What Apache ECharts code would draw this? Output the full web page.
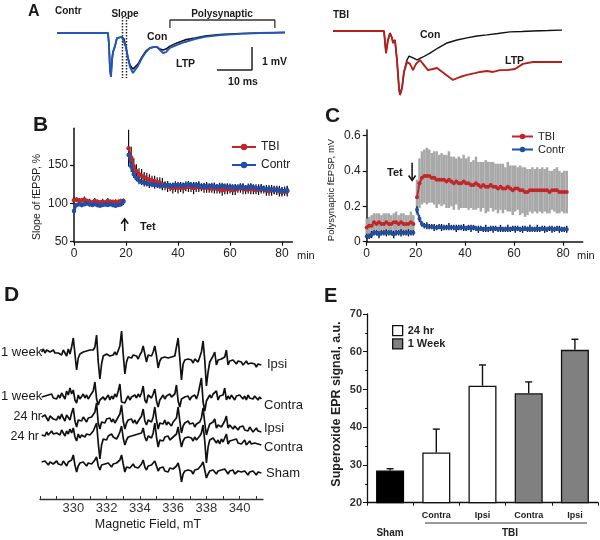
<!DOCTYPE html>
<html><head><meta charset="utf-8">
<script src="https://cdn.jsdelivr.net/npm/echarts@6/dist/echarts.min.js"></script>
<style>html,body{margin:0;padding:0;background:#fff}#c{width:600px;height:540px}</style>
</head><body><div id="c"></div>
<script>
// ---------- Panel A: field potential traces (ms, mV) ----------
const A_CTRL_MS  = [0,14.54,14.82,15.11,15.39,15.68,15.96,16.53,17.10,17.67,18.53,19.10,19.67,20.24,20.81,21.66,22.23,23.09,24.23,25.37,26.51,27.65,28.51,29.36,30.22,31.07,32.21,34.21,36.49,39.34,42.19,46.47,52.17,57.87,65.0];
const A_CTRL_LTP = [0,0,-0.52,-1.61,-1.91,-1.17,-0.83,-0.57,-0.22,-0.17,-0.17,-0.22,-0.61,-1.09,-1.48,-1.74,-1.70,-1.43,-1.09,-0.83,-0.65,-0.61,-0.61,-0.74,-0.87,-0.83,-0.65,-0.52,-0.39,-0.26,-0.17,-0.09,-0.04,0,0.02];
const A_CTRL_CON = [0,0,-0.52,-1.61,-1.87,-1.17,-0.83,-0.57,-0.22,-0.17,-0.17,-0.26,-0.65,-1.09,-1.39,-1.57,-1.52,-1.35,-1.04,-0.78,-0.65,-0.61,-0.61,-0.70,-0.74,-0.70,-0.57,-0.43,-0.30,-0.22,-0.13,-0.07,-0.02,0,0.02];
const A_TBI_LTP_MS = [0,14.54,15.11,15.68,16.25,16.82,17.10,17.67,18.24,18.81,19.10,19.67,20.24,21.09,21.95,22.81,23.66,24.80,25.94,27.08,28.51,29.65,31.93,34.21,36.20,38.20,40.48,41.90,43.90,45.61,47.61,49.60,51.88,54.16,57.01,59.86,62.43,65.28];
const A_TBI_LTP    = [0,0,-0.96,-0.39,-0.09,-0.30,-0.52,-0.39,-1.26,-2.48,-2.78,-2.48,-1.78,-1.35,-1.43,-1.70,-1.43,-1.26,-1.48,-1.70,-1.65,-1.61,-1.87,-2.13,-2.00,-1.91,-1.83,-1.78,-1.74,-1.78,-1.70,-1.70,-1.65,-1.43,-1.35,-1.35,-1.35,-1.35];
const A_TBI_CON_MS = [0,14.54,15.11,15.68,16.25,16.82,17.10,17.67,18.24,18.81,19.10,19.67,20.24,21.09,21.67,22.81,23.95,25.66,27.65,29.93,32.50,35.35,38.20,41.05,43.90,47.04,50.46,53.88,57.01,61.29,65.28];
const A_TBI_CON    = [0,0,-0.96,-0.39,-0.09,-0.30,-0.52,-0.39,-1.26,-2.48,-2.78,-2.48,-1.78,-1.26,-1.09,-1.17,-1.26,-1.13,-0.96,-0.74,-0.52,-0.39,-0.30,-0.22,-0.17,-0.11,-0.04,-0.02,0,0.02,0.04];

// ---------- Panel B: slope of fEPSP, % ----------
const B_TIME = [0,1,2,3,4,5,6,7,8,9,10,11,12,13,14,15,16,17,18,19,20,
  21,22,23,24,25,26,27,28,29,30,31,32,33,34,35,36,37,38,39,40,41,42,43,44,45,46,47,48,49,50,
  51,52,53,54,55,56,57,58,59,60,61,62,63,64,65,66,67,68,69,70,71,72,73,74,75,76,77,78,79,80,81,82];
const B_TBI = [104,105,103,104,105,103,102,101,103,102,101,102,101,103,102,101,102,101,103,102,null,
  172,160,148,142,138,136,134,132,131,130,
  129,128,127,125,123,122,121,120,121,120,
  121,120,121,122,121,120,121,122,121,120,
  121,120,119,120,119,118,117,118,119,118,
  117,118,119,120,119,118,118,119,118,117,
  118,119,118,117,116,117,118,117,116,115,
  116,116];
const B_TBI_SEM = [4,3,4,3,4,3,4,3,4,3,3,4,3,4,3,4,3,4,3,4,null,
  24,14,11,9,8,9,7,8,7,6,
  7,6,7,8,6,7,5,7,6,7,
  6,7,5,7,6,8,6,7,5,6,
  7,6,5,7,6,5,7,6,7,5,
  6,7,5,6,7,6,5,7,6,5,
  7,6,5,7,6,7,5,6,7,6,
  6,7];
const B_CONTR = [90,98,99,98,99,100,99,98,99,98,97,98,99,98,99,98,97,98,99,103,null,
  163,148,138,133,130,128,127,126,125,125,
  124,124,123,123,124,124,123,123,124,124,
  123,123,124,125,124,123,124,123,122,123,
  122,122,123,122,121,122,123,122,121,122,
  121,120,121,122,121,120,121,122,121,120,
  119,120,119,118,119,118,117,118,117,116,
  116,117];
const B_CONTR_SEM = [3,2,2,3,2,2,3,2,2,3,2,2,3,2,2,3,2,2,3,3,null,
  10,7,5,4,5,4,5,4,5,4,
  5,4,4,5,4,5,4,4,5,4,
  5,4,5,4,4,5,4,5,4,4,
  5,4,4,5,4,5,4,4,5,4,
  4,5,4,4,5,4,5,4,4,5,
  4,5,4,4,5,4,5,4,4,5,
  4,5];

// ---------- Panel C: polysynaptic fEPSP, mV ----------
const C_TIME = [0,1,2,3,4,5,6,7,8,9,10,11,12,13,14,15,16,17,18,19,20,
  20.5,21.5,22.5,23.5,24.5,25.5,26.5,27.5,28.5,29.5,30.5,31.5,32.5,33.5,34.5,35.5,36.5,37.5,38.5,39.5,
  40.5,41.5,42.5,43.5,44.5,45.5,46.5,47.5,48.5,49.5,50.5,51.5,52.5,53.5,54.5,55.5,56.5,57.5,58.5,59.5,
  60.5,61.5,62.5,63.5,64.5,65.5,66.5,67.5,68.5,69.5,70.5,71.5,72.5,73.5,74.5,75.5,76.5,77.5,78.5,79.5,80.5,81.5];
const C_TBI = [0.08,0.09,0.09,0.11,0.10,0.11,0.10,0.10,0.11,0.10,0.10,0.11,0.11,0.10,0.11,0.10,0.10,0.10,0.11,0.10,null,
  0.25,0.33,0.36,0.37,0.37,0.37,0.36,0.36,0.35,0.35,
  0.35,0.35,0.34,0.35,0.34,0.33,0.34,0.33,0.33,0.34,
  0.33,0.33,0.32,0.32,0.33,0.32,0.31,0.32,0.31,0.31,
  0.32,0.31,0.31,0.30,0.31,0.30,0.30,0.31,0.30,0.29,
  0.30,0.30,0.29,0.29,0.28,0.28,0.29,0.29,0.29,0.29,
  0.29,0.29,0.29,0.29,0.28,0.29,0.29,0.29,0.28,0.28,
  0.28,0.28];
const C_TBI_SEM = [0.05,0.05,0.06,0.05,0.06,0.05,0.05,0.06,0.05,0.06,0.05,0.05,0.06,0.05,0.05,0.06,0.05,0.05,0.06,0.05,null,
  0.10,0.14,0.15,0.15,0.16,0.15,0.14,0.15,0.16,0.14,
  0.15,0.14,0.15,0.16,0.14,0.15,0.13,0.15,0.14,0.15,
  0.14,0.15,0.13,0.14,0.15,0.13,0.14,0.13,0.15,0.14,
  0.13,0.14,0.13,0.14,0.13,0.14,0.12,0.14,0.13,0.14,
  0.13,0.12,0.14,0.13,0.14,0.13,0.12,0.13,0.12,0.13,
  0.12,0.13,0.12,0.13,0.12,0.11,0.12,0.13,0.12,0.11,
  0.12,0.12];
const C_CONTR = [0.03,0.03,0.04,0.05,0.05,0.04,0.05,0.05,0.05,0.05,0.05,0.04,0.05,0.05,0.05,0.05,0.05,0.05,0.05,0.05,null,
  0.18,0.13,0.10,0.09,0.09,0.085,0.085,0.08,0.08,0.085,
  0.08,0.08,0.08,0.085,0.08,0.08,0.075,0.08,0.08,0.08,
  0.075,0.08,0.075,0.08,0.075,0.07,0.075,0.07,0.075,0.07,
  0.075,0.07,0.075,0.07,0.075,0.07,0.07,0.075,0.07,0.075,
  0.07,0.075,0.07,0.07,0.075,0.07,0.075,0.07,0.07,0.075,
  0.07,0.075,0.07,0.07,0.075,0.07,0.07,0.075,0.07,0.07,
  0.07,0.07];
const C_CONTR_SEM = [0.015,0.015,0.02,0.015,0.015,0.02,0.015,0.015,0.02,0.015,0.015,0.02,0.015,0.015,0.02,0.015,0.015,0.02,0.015,0.015,null,
  0.02,0.02,0.015,0.015,0.02,0.015,0.015,0.02,0.015,0.015,
  0.02,0.015,0.015,0.02,0.015,0.015,0.02,0.015,0.015,0.02,
  0.015,0.015,0.02,0.015,0.015,0.02,0.015,0.015,0.02,0.015,
  0.015,0.02,0.015,0.015,0.02,0.015,0.015,0.02,0.015,0.015,
  0.02,0.015,0.015,0.02,0.015,0.015,0.02,0.015,0.015,0.02,
  0.015,0.015,0.02,0.015,0.015,0.02,0.015,0.015,0.02,0.015,
  0.015,0.02];

// ---------- Panel D: EPR spectra (field sampled every 0.1 mT from 328.1) ----------
const D_FIELD_START = 328.1, D_FIELD_STEP = 0.1;
const D_WEEK_IPSI = [0,3,-1,2,4,0,-2,2,-1,1, -1,1,-3,2,-1,-4,3,-2,5,14, -2,-18,-6,-2,-3,0,-2,1,-1,2,
  0,2,5,17,-10,-27,-12,-4,-3,-2, -1,-4,-2,-3,0,-3,-1,6,21,-2, -22,-10,-5,-4,-6,-3,-5,-4,-7,-3,
  0,6,-2,-10,-3,-1,-4,0,6,-4, -16,-9,-6,-8,-5,-7,-6,-8,-5,-7, -4,-2,14,-6,-28,-12,-8,-10,-7,-9,
  -8,-11,-7,-9,-10,-8,0,11,-8,-34, -20,-10,-8,-4,0,-13,-8,-10,-7,-9, -5,2,-13,-9,-11,-8,-10,-12,-9,-11,
  -10,-13,-11,-9,-12,-14,-11,-13,-12,-15, -12,-14,-13];
const D_WEEK_CONTRA = [0,-2,1,-1,2,0,3,-1,1,-2, 2,-1,4,1,-2,6,2,9,3,7, -3,-6,2,-2,0,3,-1,2,-2,1,
  3,6,15,-2,-8,-3,-5,0,-3,-1, 2,-3,1,-2,3,0,6,13,-5,-3, -6,-2,1,-3,0,-2,2,-1,3,0,
  4,11,-3,-6,2,4,-1,3,8,-4, -10,-3,-1,2,-2,1,-1,3,0,2, 3,12,-4,-10,-2,-4,0,-2,1,-3,
  0,-1,2,-2,3,1,19,-5,-14,-4, -2,2,-1,3,1,6,-3,1,-1,2, 9,-3,1,-2,2,0,-3,1,-1,2,
  0,-2,1,-3,2,-1,0,-2,1,-1, -3,0,-2];
const D_DAY_IPSI = [0,-2,2,-1,-4,1,3,-2,0,-3, 1,-2,3,-1,-4,2,0,-3,4,9, -4,-10,-3,-1,-4,0,-2,-5,-1,-3,
  0,2,5,14,-6,-12,-5,-3,-6,-2, -4,-1,-5,-2,-6,-3,-1,3,12,-4, -12,-6,-3,-5,-2,-6,-3,-7,-4,-2,
  1,8,-4,-8,-3,-1,-5,0,10,-3, -12,-6,-4,-7,-3,-8,-5,-6,-9,-5, -3,-1,10,-4,-16,-9,-6,-8,-4,-7,
  -9,-6,-10,-7,-8,-5,-1,9,-6,-18, -12,-7,-9,-5,-2,-11,-8,-6,-10,-7, -4,1,-11,-8,-10,-12,-9,-11,-13,-10,
  -12,-9,-13,-11,-14,-10,-12,-15,-13,-11, -14,-16,-15];
const D_DAY_CONTRA = [0,2,-1,3,0,-2,4,1,-1,2, 3,0,5,2,-1,4,1,6,2,7, -2,-6,1,-3,0,2,-2,1,-1,0,
  2,4,6,12,-8,-24,-10,-4,-2,-5, -1,-3,1,-2,0,-4,-1,3,9,-3, -10,-5,-2,-4,-1,-3,0,-2,1,-1,
  2,7,-2,-6,-1,1,-3,2,12,-2, -12,-5,-3,-6,-2,-4,-1,-5,-3,-2, -1,1,8,-3,-12,-6,-3,-5,-2,-4,
  -3,-6,-2,-5,-3,-1,2,10,-6,-28, -12,-5,-7,-3,-1,-8,-5,-9,-4,-7, -3,1,-9,-6,-8,-5,-7,-4,-8,-6,
  -9,-7,-5,-10,-8,-6,-9,-11,-8,-10, -9,-11,-10];
const D_SHAM = [0,-2,1,-1,-3,0,2,-2,-1,1, -2,0,-3,1,-1,-4,0,-2,2,7, -3,-10,-4,-1,-3,0,-2,-4,-1,-3,
  -2,0,2,5,-4,-8,-3,-5,-2,-4, -1,-3,-5,-2,-4,-1,-3,2,7,-2, -10,-5,-3,-6,-4,-2,-5,-3,-6,-4,
  -2,2,-5,-8,-4,-6,-3,-5,1,-4, -9,-6,-8,-5,-9,-7,-10,-6,-8,-7, -5,-4,-1,-8,-20,-12,-9,-11,-8,-10,
  -9,-12,-8,-10,-7,-9,-3,0,-8,-16, -12,-9,-11,-8,-7,-12,-9,-11,-8,-10, -7,-6,-12,-9,-11,-8,-12,-10,-9,-11,
  -10,-12,-9,-11,-13,-10,-12,-9,-11,-13, -10,-12,-11];

// ---------- Panel E: superoxide EPR signal ----------
const E_CATEGORIES = ['Sham','Contra','Ipsi','Contra','Ipsi'];
const E_GROUP = ['Sham','24 hr','24 hr','1 Week','1 Week'];
const E_MEAN = [28.5,33.3,51.0,49.0,60.5];
const E_ERR_TOP = [29.0,39.5,56.5,52.0,63.3];

// ---------- build ----------
const FONT = '"Liberation Sans", Arial, sans-serif';
const RED = '#c2262b', BLUE = '#1f4fa8';
const chart = echarts.init(document.getElementById('c'), null, {width:600, height:540});
const pairs = (xs, ys) => xs.map((x, i) => [x, ys[i] == null ? '-' : ys[i]]);
const errData = (xs, m, s) => xs.map((x, i) => m[i] == null ? null : [x, m[i] - s[i], m[i] + s[i]]).filter(d => d);
const dTrace = (vals, base) => vals.map((v, i) => [+(D_FIELD_START + i * D_FIELD_STEP).toFixed(2), v + base]);

function T(text, x, y, o) {
  o = o || {};
  return {type:'text', x, y, rotation:o.rot || 0, silent:true, z:100,
    style:{text, fill:o.color || '#1a1a1a', font:(o.weight || 'normal') + ' ' + (o.size || 11) + 'px ' + FONT,
      align:o.align || 'left', verticalAlign:'middle'}};
}
function errSeries(gi, data, color, width, z) {
  return {type:'custom', xAxisIndex:gi, yAxisIndex:gi, z, silent:true, data, encode:{x:0, y:[1,2]},
    renderItem:(p, api) => {
      const x = api.value(0);
      const a = api.coord([x, api.value(1)]), b = api.coord([x, api.value(2)]);
      return {type:'line', shape:{x1:a[0], y1:a[1], x2:b[0], y2:b[1]}, style:{stroke:color, lineWidth:width}};
    }};
}
// arrow drawn in data coordinates of a grid: [x, yFrom] -> [x, yTo]
function arrowSeries(gi, from, to) {
  return {type:'custom', xAxisIndex:gi, yAxisIndex:gi, z:6, silent:true, data:[[from[0], from[1], to[1]]],
    encode:{x:0, y:[1,2]},
    renderItem:(p, api) => {
      const a = api.coord([api.value(0), api.value(1)]), b = api.coord([api.value(0), api.value(2)]);
      const d = b[1] > a[1] ? 1 : -1;
      return {type:'group', children:[
        {type:'line', shape:{x1:a[0], y1:a[1], x2:b[0], y2:b[1] - d * 1}, style:{stroke:'#111', lineWidth:1.5}},
        {type:'polyline', shape:{points:[[b[0]-3.5, b[1]-d*5], [b[0], b[1]], [b[0]+3.5, b[1]-d*5]]},
          style:{stroke:'#111', lineWidth:1.5, fill:null}}]};
    }};
}
function line(gi, data, color, width, extra) {
  return Object.assign({type:'line', xAxisIndex:gi, yAxisIndex:gi, data, symbol:'none', silent:true,
    lineStyle:{color, width}, itemStyle:{color}, z:3}, extra || {});
}
const axisCommon = {axisLine:{show:true, lineStyle:{color:'#111', width:1.5}}, axisTick:{show:true, length:4, lineStyle:{color:'#111', width:1.2}},
  splitLine:{show:false}, axisLabel:{color:'#222', fontSize:12, fontFamily:FONT, margin:6, showMaxLabel:false}};

const option = {
  animation:false,
  backgroundColor:'#fff',
  grid:[
    {left:57, top:14.6, width:231.5, height:87.4, outerBoundsMode:'none'},
    {left:333, top:12.6, width:231.5, height:87.4, outerBoundsMode:'none'},
    {left:74, top:128.3, width:218.4, height:113.4, outerBoundsMode:'none'},
    {left:366.7, top:130, width:216, height:111.7, outerBoundsMode:'none'},
    {left:40, top:329, width:223, height:170, outerBoundsMode:'none'},
    {left:367, top:314, width:231, height:188.7, outerBoundsMode:'none'}
  ],
  xAxis:[
    {gridIndex:0, type:'value', min:0, max:66, show:false},
    {gridIndex:1, type:'value', min:0, max:66, show:false},
    Object.assign({}, axisCommon, {gridIndex:2, type:'value', min:0, max:84, interval:20}),
    Object.assign({}, axisCommon, {gridIndex:3, type:'value', min:0, max:88, interval:20}),
    {gridIndex:4, type:'value', min:328, max:341.4, interval:1,
      axisLine:{show:true, lineStyle:{color:'#333', width:1.3}}, axisTick:{show:true, inside:true, length:3, lineStyle:{color:'#333'}},
      splitLine:{show:false},
      axisLabel:{color:'#333', fontSize:13, fontFamily:FONT, margin:3, showMaxLabel:false,
        formatter:v => (v >= 330 && v <= 340 && Math.round(v) % 2 === 0) ? String(Math.round(v)) : ''}},
    {gridIndex:5, type:'category', data:E_CATEGORIES,
      axisLine:{show:true, lineStyle:{color:'#111', width:1.3}}, axisTick:{show:true, length:3, lineStyle:{color:'#111'}},
      axisLabel:{color:'#222', fontSize:9, fontWeight:'bold', fontFamily:FONT, margin:8, formatter:(v, i) => i === 0 ? '' : v}}
  ],
  yAxis:[
    {gridIndex:0, type:'value', min:-3, max:0.8, show:false},
    {gridIndex:1, type:'value', min:-3, max:0.8, show:false},
    Object.assign({}, axisCommon, {gridIndex:2, type:'value', min:50, max:198, interval:50}),
    Object.assign({}, axisCommon, {gridIndex:3, type:'value', min:0, max:0.63, interval:0.2,
      axisLabel:Object.assign({}, axisCommon.axisLabel, {formatter:v => v === 0 ? '0' : v.toFixed(1)})}),
    {gridIndex:4, type:'value', min:0, max:170, show:false},
    {gridIndex:5, type:'value', min:20, max:70, interval:10,
      axisLine:{show:true, lineStyle:{color:'#111', width:1.3}}, axisTick:{show:true, length:4, lineStyle:{color:'#111'}},
      minorTick:{show:true, splitNumber:2, length:2, lineStyle:{color:'#111'}},
      splitLine:{show:false},
      axisLabel:{color:'#333', fontSize:11, fontWeight:'bold', fontFamily:FONT, margin:5}}
  ],
  legend:[
    {data:['TBI','Contr'], orient:'vertical', left:226, top:136, itemWidth:24, itemHeight:8, itemGap:6,
      selectedMode:false, textStyle:{fontSize:12, color:'#222', fontFamily:FONT}},
    {data:['TBI','Contr'], orient:'vertical', left:506, top:126, itemWidth:21, itemHeight:7, itemGap:2,
      selectedMode:false, textStyle:{fontSize:11, color:'#222', fontFamily:FONT}},
    {data:[{name:'24 hr', itemStyle:{color:'#fff', borderColor:'#111', borderWidth:1.3}},
           {name:'1 Week', itemStyle:{color:'#808080', borderColor:'#111', borderWidth:1.3}}],
      orient:'vertical', left:387, top:320, itemWidth:10, itemHeight:10, itemGap:2, icon:'rect',
      selectedMode:false, textStyle:{fontSize:11, fontWeight:'bold', color:'#222', fontFamily:FONT}}
  ],
  series:[],
  graphic:[]
};

const S = option.series;
// A left
S.push(line(0, pairs(A_CTRL_MS, A_CTRL_CON), '#111', 1.6, {name:'ctrlCon', z:3}));
S.push(line(0, pairs(A_CTRL_MS, A_CTRL_LTP), '#2457bb', 1.9, {name:'ctrlLTP', z:4}));
S.push(line(0, [[18.67,0.70],[18.67,-1.96]], '#222', 1.5, {name:'dot1', lineStyle:{color:'#222', width:1.5, type:[1.5,1.5]}}));
S.push(line(0, [[19.81,0.70],[19.81,-1.96]], '#222', 1.5, {name:'dot2', lineStyle:{color:'#222', width:1.5, type:[1.5,1.5]}}));
S.push(line(0, [[32.2,0.217],[32.2,0.565],[62.1,0.565],[62.1,0.217]], '#333', 1.3, {name:'bracket'}));
S.push(line(0, [[45.6,-1.61],[55.6,-1.61],[55.6,-0.61]], '#222', 1.5, {name:'scale'}));
// A right
S.push(line(1, pairs(A_TBI_CON_MS, A_TBI_CON), '#111', 1.4, {name:'tbiCon'}));
S.push(line(1, pairs(A_TBI_LTP_MS, A_TBI_LTP), '#b3201c', 1.9, {name:'tbiLTP', z:4}));
// B
S.push(errSeries(2, errData(B_TIME, B_TBI, B_TBI_SEM), '#111', 1.2, 1));
S.push(errSeries(2, errData(B_TIME, B_CONTR, B_CONTR_SEM), '#111', 1.2, 1));
S.push(line(2, pairs(B_TIME, B_TBI), RED, 2.2, {name:'TBI', symbol:'circle', symbolSize:4.5, z:3}));
S.push(line(2, pairs(B_TIME, B_CONTR), BLUE, 2.2, {name:'Contr', symbol:'circle', symbolSize:4.5, z:4}));
S.push(arrowSeries(2, [19.5, 64], [19.5, 80]));
// C
S.push(errSeries(3, errData(C_TIME, C_TBI, C_TBI_SEM), '#a8a8a8', 2.5, 1));
S.push(errSeries(3, errData(C_TIME, C_CONTR, C_CONTR_SEM), '#111', 1.4, 2));
S.push(line(3, pairs(C_TIME, C_TBI), RED, 2, {name:'TBI', symbol:'circle', symbolSize:4, z:3}));
S.push(line(3, pairs(C_TIME, C_CONTR), BLUE, 2, {name:'Contr', symbol:'circle', symbolSize:4, z:4}));
S.push(arrowSeries(3, [18.5, 0.445], [18.5, 0.345]));
// D
[[D_WEEK_IPSI,147],[D_WEEK_CONTRA,102],[D_DAY_IPSI,82],[D_DAY_CONTRA,64],[D_SHAM,37]].forEach((t, k) => {
  S.push(line(4, dTrace(t[0], t[1]), '#111', 1.7, {name:'epr' + k}));
});
// E bars
const barStyles = {'Sham':{color:'#000', borderColor:'#000', borderWidth:1.2},
  '24 hr':{color:'#fff', borderColor:'#111', borderWidth:1.3},
  '1 Week':{color:'#808080', borderColor:'#111', borderWidth:1.3}};
['Sham','24 hr','1 Week'].forEach(g => {
  S.push({type:'bar', name:g, xAxisIndex:5, yAxisIndex:5, barWidth:28, barGap:'-100%', silent:true,
    itemStyle:barStyles[g], data:E_MEAN.map((v, i) => E_GROUP[i] === g ? v : '-'), z:2});
});
S.push({type:'custom', xAxisIndex:5, yAxisIndex:5, z:3, silent:true,
  data:E_MEAN.map((v, i) => [i, v, E_ERR_TOP[i]]), encode:{x:0, y:[1,2]},
  renderItem:(p, api) => {
    const i = api.value(0);
    const a = api.coord([i, api.value(1)]), b = api.coord([i, api.value(2)]);
    return {type:'group', children:[
      {type:'line', shape:{x1:a[0], y1:a[1], x2:b[0], y2:b[1]}, style:{stroke:'#111', lineWidth:1.4}},
      {type:'line', shape:{x1:b[0]-3.5, y1:b[1], x2:b[0]+3.5, y2:b[1]}, style:{stroke:'#111', lineWidth:1.4}}]};
  }});

// ---------- text annotations ----------
const G = option.graphic;
G.push(T('A', 28, 12, {weight:'bold', size:16}));
G.push(T('Contr', 55, 11, {weight:'bold', size:10}));
G.push(T('Slope', 125, 14, {weight:'bold', size:10, align:'center'}));
G.push(T('Polysynaptic', 222, 14, {weight:'bold', size:10, align:'center'}));
G.push(T('Con', 147, 37.5, {weight:'bold', size:10.5}));
G.push(T('LTP', 176, 64, {weight:'bold', size:10.5}));
G.push(T('1 mV', 262, 62, {weight:'bold', size:10.5}));
G.push(T('10 ms', 243, 82, {weight:'bold', size:10.5, align:'center'}));
G.push(T('TBI', 333, 15, {weight:'bold', size:10}));
G.push(T('Con', 420, 35, {weight:'bold', size:10.5}));
G.push(T('LTP', 505, 61, {weight:'bold', size:10.5}));

G.push(T('B', 33, 125, {weight:'bold', size:21}));
G.push(T('Slope of fEPSP, %', 37.5, 197, {size:10.5, align:'center', rot:Math.PI/2}));
G.push(T('Tet', 140, 227, {size:11, weight:'bold'}));
G.push(T('min', 297, 256, {size:11}));

G.push(T('C', 325, 116, {weight:'bold', size:21}));
G.push(T('Polysynaptic fEPSP, mV', 331, 190, {size:9.5, align:'center', rot:Math.PI/2}));
G.push(T('Tet', 387, 173, {size:11, weight:'bold'}));
G.push(T('min', 577, 256, {size:11}));

G.push(T('D', 4, 295, {weight:'bold', size:21}));
G.push(T('1 week', 1, 352, {size:13}));
G.push(T('1 week', 1, 396, {size:13}));
G.push(T('24 hr', 42, 417, {size:12.5, align:'right'}));
G.push(T('24 hr', 39, 437, {size:12.5, align:'right'}));
G.push(T('Ipsi', 267, 364, {size:13}));
G.push(T('Contra', 264, 405, {size:13}));
G.push(T('Ipsi', 264, 428, {size:13}));
G.push(T('Contra', 264, 447, {size:13}));
G.push(T('Sham', 266, 473, {size:13}));
G.push(T('Magnetic Field, mT', 148, 525, {size:12.5, align:'center'}));

G.push(T('E', 324, 296, {weight:'bold', size:20}));
G.push(T('Superoxide EPR signal, a.u.', 337, 404, {size:12.5, weight:'bold', align:'center', rot:Math.PI/2, color:'#222'}));
G.push(T('Sham', 390, 533, {size:10, weight:'bold', align:'center', color:'#222'}));
G.push(T('TBI', 510, 533, {size:10, weight:'bold', align:'center', color:'#222'}));
G.push({type:'line', silent:true, shape:{x1:425, y1:523, x2:587, y2:523}, style:{stroke:'#333', lineWidth:1}});

chart.setOption(option);
</script>
</body></html>
